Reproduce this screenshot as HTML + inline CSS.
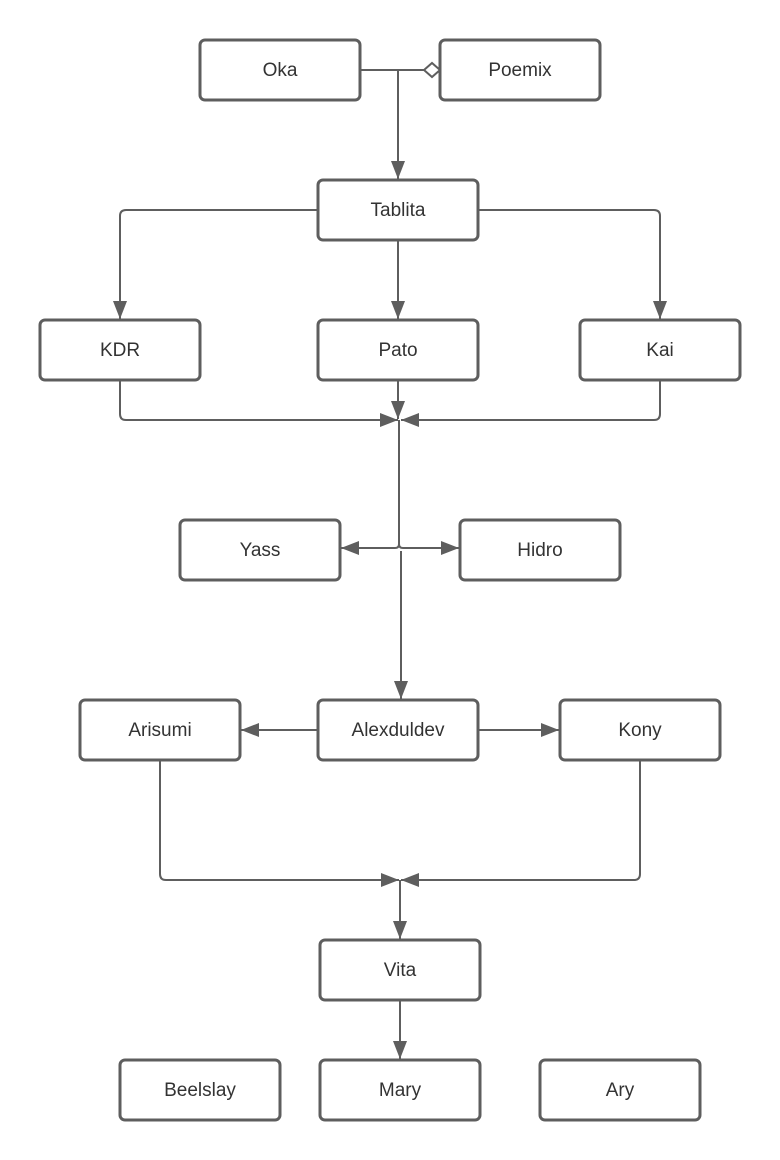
<!DOCTYPE html>
<html><head><style>body{margin:0;background:#fff}svg{display:block}</style></head><body>
<svg width="780" height="1160" xmlns="http://www.w3.org/2000/svg">
<defs>
<marker id="a" viewBox="0 0 18 14" refX="18" refY="7" markerWidth="18" markerHeight="14" markerUnits="userSpaceOnUse" orient="auto"><path d="M0,0 L18,7 L0,14 z" fill="#5e5e5e"/></marker>
</defs>
<g fill="none" stroke="#5e5e5e" stroke-width="2">
<path d="M361,70 H424"/>
<path d="M424,70 L432,63 L440,70 L432,77 z" fill="#fff"/>
<path d="M398,70 V179" marker-end="url(#a)"/>
<path d="M318,210 H126 Q120,210 120,216 V319" marker-end="url(#a)"/>
<path d="M398,241 V319" marker-end="url(#a)"/>
<path d="M478,210 H654 Q660,210 660,216 V319" marker-end="url(#a)"/>
<path d="M120,381 V414 Q120,420 126,420 H398" marker-end="url(#a)"/>
<path d="M660,381 V414 Q660,420 654,420 H401" marker-end="url(#a)"/>
<path d="M398,381 V419" marker-end="url(#a)"/>
<path d="M399,420 V544 Q399,548 395,548 H341" marker-end="url(#a)"/>
<path d="M399,544 Q399,548 403,548 H459" marker-end="url(#a)"/>
<path d="M401,551 V699" marker-end="url(#a)"/>
<path d="M318,730 H241" marker-end="url(#a)"/>
<path d="M478,730 H559" marker-end="url(#a)"/>
<path d="M160,761 V874 Q160,880 166,880 H399" marker-end="url(#a)"/>
<path d="M640,761 V874 Q640,880 634,880 H401" marker-end="url(#a)"/>
<path d="M400,880 V939" marker-end="url(#a)"/>
<path d="M400,1001 V1059" marker-end="url(#a)"/>
</g>
<g fill="#fff" stroke="#5e5e5e" stroke-width="3">
<rect x="200" y="40" width="160" height="60" rx="5"/>
<rect x="440" y="40" width="160" height="60" rx="5"/>
<rect x="318" y="180" width="160" height="60" rx="5"/>
<rect x="40" y="320" width="160" height="60" rx="5"/>
<rect x="318" y="320" width="160" height="60" rx="5"/>
<rect x="580" y="320" width="160" height="60" rx="5"/>
<rect x="180" y="520" width="160" height="60" rx="5"/>
<rect x="460" y="520" width="160" height="60" rx="5"/>
<rect x="80" y="700" width="160" height="60" rx="5"/>
<rect x="318" y="700" width="160" height="60" rx="5"/>
<rect x="560" y="700" width="160" height="60" rx="5"/>
<rect x="320" y="940" width="160" height="60" rx="5"/>
<rect x="120" y="1060" width="160" height="60" rx="5"/>
<rect x="320" y="1060" width="160" height="60" rx="5"/>
<rect x="540" y="1060" width="160" height="60" rx="5"/>
</g>
<g font-family="Liberation Sans, sans-serif" font-size="19" fill="#333" text-anchor="middle">
<text x="280" y="76">Oka</text>
<text x="520" y="76">Poemix</text>
<text x="398" y="216">Tablita</text>
<text x="120" y="356">KDR</text>
<text x="398" y="356">Pato</text>
<text x="660" y="356">Kai</text>
<text x="260" y="556">Yass</text>
<text x="540" y="556">Hidro</text>
<text x="160" y="736">Arisumi</text>
<text x="398" y="736">Alexduldev</text>
<text x="640" y="736">Kony</text>
<text x="400" y="976">Vita</text>
<text x="200" y="1096">Beelslay</text>
<text x="400" y="1096">Mary</text>
<text x="620" y="1096">Ary</text>
</g>
</svg>
</body></html>
